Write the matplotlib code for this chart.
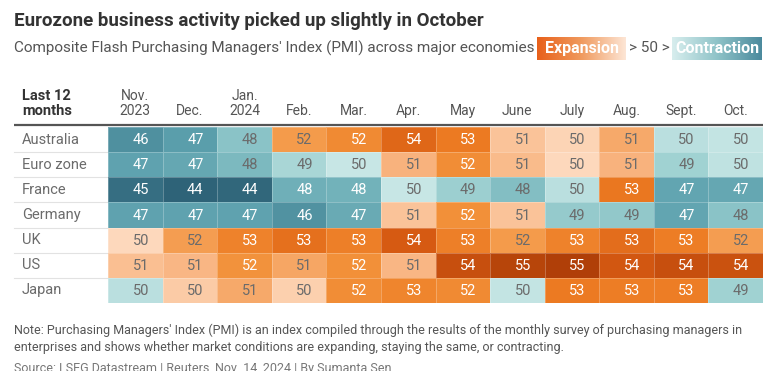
import numpy as np
import matplotlib
matplotlib.use("Agg")
import matplotlib.pyplot as plt
from matplotlib.colors import LinearSegmentedColormap, Normalize
from matplotlib.transforms import Bbox, TransformedBbox
from matplotlib import font_manager

avail = {f.name for f in font_manager.fontManager.ttflist}
FONT = "Roboto" if "Roboto" in avail else "DejaVu Sans"
plt.rcParams["font.family"] = [FONT, "DejaVu Sans"]

title = "Eurozone business activity picked up slightly in October"
subtitle = "Composite Flash Purchasing Managers' Index (PMI) across major economies"
note_lines = ["Note: Purchasing Managers' Index (PMI) is an index compiled through the results of the monthly survey of purchasing managers in",
              "enterprises and shows whether market conditions are expanding, staying the same, or contracting."]
source = "Source: LSEG Datastream | Reuters, Nov. 14, 2024 | By Sumanta Sen"

countries = ["Australia", "Euro zone", "France", "Germany", "UK", "US", "Japan"]
months = ["Nov.\n2023", "Dec.", "Jan.\n2024", "Feb.", "Mar.", "Apr.", "May", "June", "July", "Aug.", "Sept.", "Oct."]

australia = [46.2, 46.9, 48.4, 51.8, 52.4, 53.6, 53.0, 50.6, 50.2, 51.3, 49.6, 49.8]
eurozone  = [47.1, 47.3, 48.0, 49.2, 49.9, 51.0, 52.3, 50.8, 50.1, 51.0, 49.0, 49.7]
france    = [44.6, 44.0, 44.2, 47.6, 47.7, 49.9, 48.9, 48.2, 49.6, 53.1, 47.2, 47.3]
germany   = [47.1, 47.1, 47.1, 46.3, 47.4, 50.6, 52.2, 50.6, 48.7, 48.6, 47.2, 48.4]
uk        = [50.1, 51.7, 52.7, 53.3, 52.8, 54.0, 52.8, 51.8, 52.7, 53.4, 52.9, 51.7]
us        = [50.7, 50.9, 52.1, 51.4, 52.2, 50.9, 54.4, 54.8, 55.0, 54.1, 54.4, 54.3]
japan     = [49.6, 50.4, 51.3, 50.3, 52.3, 52.6, 52.4, 49.8, 53.0, 52.9, 52.9, 49.0]

data = np.array([australia, eurozone, france, germany, uk, us, japan])

vmin, vmax = 44.0, 55.2
anchors = [(44.0, "#2e6378"), (45.0, "#3b7689"), (46.0, "#4c8c9c"), (47.0, "#5ca0ad"),
           (48.0, "#7cb9bf"), (49.0, "#a0d2d2"), (49.99, "#cbe8e7"),
           (50.01, "#fddcc2"), (51.0, "#f8b27d"), (52.0, "#f3953f"),
           (53.0, "#ec7a22"), (54.0, "#d65a12"), (55.2, "#a83a06")]
cmap = LinearSegmentedColormap.from_list(
    "pmi", [((v - vmin) / (vmax - vmin), c) for v, c in anchors], N=1024)
norm = Normalize(vmin, vmax)

W, H = 773, 381
fig = plt.figure(figsize=(W / 100, H / 100), dpi=100)

# overlay axes in pixel coords
ov = fig.add_axes([0, 0, 1, 1])
ov.set_xlim(0, W)
ov.set_ylim(H, 0)
ov.axis("off")

# heatmap axes
x0, x1, y0, y1 = 108, 763, 127, 303
ax = fig.add_axes([x0 / W, 1 - y1 / H, (x1 - x0) / W, (y1 - y0) / H])
nr, nc = data.shape
ax.pcolormesh(np.arange(nc + 1), np.arange(nr + 1), data, cmap=cmap, norm=norm,
              edgecolors=(1, 1, 1, 0.25), linewidth=0.4)
ax.set_xlim(0, nc)
ax.set_ylim(nr, 0)
ax.axis("off")
ax.set_zorder(2)

for i in range(nr):
    for j in range(nc):
        v = data[i, j]
        col = "white" if (v < 47.85 or v > 52.0) else "#6b6b6b"
        ax.text(j + 0.75, i + 0.52, f"{v:.0f}", ha="right", va="center",
                fontsize=10.5, color=col)

# column headers
for j, m in enumerate(months):
    px = x0 + (j + 0.5) * (x1 - x0) / nc
    lines = m.split("\n")
    if len(lines) == 2:
        ov.text(px, 96, lines[0], ha="center", va="center", fontsize=10, color="#555555")
        ov.text(px, 111, lines[1], ha="center", va="center", fontsize=10, color="#555555")
    else:
        ov.text(px, 111, lines[0], ha="center", va="center", fontsize=10, color="#555555")

ov.text(22, 96, "Last 12", ha="left", va="center", fontsize=10.5, color="#333333", fontweight="bold")
ov.text(22, 111, "months", ha="left", va="center", fontsize=10.5, color="#333333", fontweight="bold")

# header rule
ov.plot([14, 763], [125, 125], color="#555555", lw=1.6, solid_capstyle="butt")

# row labels and separators
rh = (y1 - y0) / nr
for i, c in enumerate(countries):
    cy = y0 + (i + 0.5) * rh
    ov.text(22, cy, c, ha="left", va="center", fontsize=10.5, color="#6b6b6b")
    if i > 0:
        ov.plot([14, x0], [y0 + i * rh] * 2, color="#e2e2e2", lw=0.8)

# title / subtitle
ov.text(14, 21, title, ha="left", va="center", fontsize=13.5, fontweight="bold", color="#333333")
ov.text(14, 48, subtitle, ha="left", va="center", fontsize=11, color="#555555")

# gradient legend boxes
grad = np.linspace(0, 1, 256)[None, :]
exp_cmap = LinearSegmentedColormap.from_list("e", ["#e8601a", "#f09a5e", "#fde6d6"])
con_cmap = LinearSegmentedColormap.from_list("c", ["#d8eeee", "#8fc3c8", "#4b8a9d"])
ov.imshow(grad, cmap=exp_cmap, extent=(537, 626, 60, 37), aspect="auto", zorder=1)
ov.imshow(grad, cmap=con_cmap, extent=(672, 762, 60, 37), aspect="auto", zorder=1)
ov.set_xlim(0, W)
ov.set_ylim(H, 0)
ov.text(581.5, 48.5, "Expansion", ha="center", va="center", fontsize=11.5, fontweight="bold", color="white", zorder=3)
ov.text(649, 48.5, "> 50 >", ha="center", va="center", fontsize=11, color="#555555")
ov.text(717, 48.5, "Contraction", ha="center", va="center", fontsize=11.5, fontweight="bold", color="white", zorder=3)

# notes
ov.text(14, 330, note_lines[0], ha="left", va="center", fontsize=9, color="#555555")
ov.text(14, 347, note_lines[1], ha="left", va="center", fontsize=9, color="#555555")
st = ov.text(14, 362, source, ha="left", va="top", fontsize=9, color="#777777", clip_on=True)
st.set_clip_box(TransformedBbox(Bbox([[0, 0], [W, 371]]), ov.transData))

fig.savefig("out.png", dpi=100)
